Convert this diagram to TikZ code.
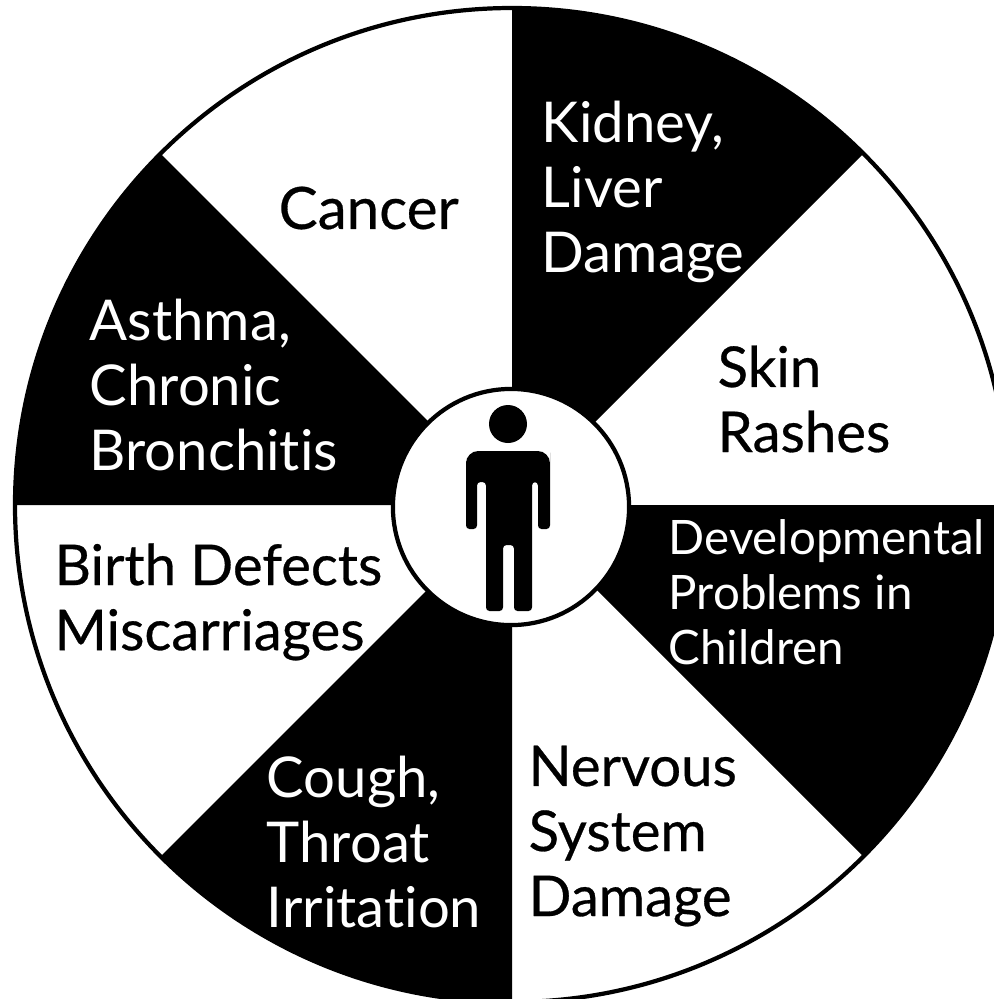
\documentclass[tikz,border=0pt]{standalone}
\usepackage{fontspec}
\setmainfont[Ligatures=NoCommon]{Lato}
\newfontfamily\heavyfont[Ligatures=NoCommon,FakeBold=0.5]{Lato}
\usetikzlibrary{positioning}
\definecolor{ink}{RGB}{0,0,0}
\tikzset{
  wedge/.style={fill=ink},
  lbl/.style={font=\heavyfont\fontsize{16}{18.5}\selectfont,align=left,inner sep=0pt,anchor=west},
  lbldark/.style={lbl,text=white,font=\fontsize{16}{18.5}\selectfont},
  lblsmall/.style={lbldark,font=\fontsize{13.5}{15.6}\selectfont},
  hub/.style={circle,draw=ink,line width=1.2pt,fill=white,minimum size=2.36cm,inner sep=0pt},
}
\begin{document}
\begin{tikzpicture}[x=0.01cm,y=-0.01cm]
  \useasboundingbox (0,0) rectangle (994,999);
  \fill[white] (0,0) rectangle (994,999);
  \coordinate (mid) at (512,505);
  % dark sectors, every other one
  \foreach \a in {-90,0,90,180}{
    \fill[wedge] (mid) -- ++(\a:497) arc[start angle=\a,delta angle=45,radius=497] -- cycle;
  }
  \draw[line width=1.2pt] (mid) circle[radius=497];
  \node[hub] (hub) at (511,507) {};
  % person
  \fill[ink] (508,424) circle[radius=19];
  \fill[ink,rounded corners=1pt] (466,529) -- (466,465) [rounded corners=3.5pt] -- (466,451) -- (550,451) -- (550,465) [rounded corners=1pt] -- (550,529) -- (538,529) -- (538,482) -- (532,482) -- (532,611) -- (514,611) -- (514,545) -- (503,545) -- (503,611) -- (486,611) -- (486,482) -- (477,482) -- (477,529) -- cycle;
  % labels
  \node[lbl,font=\heavyfont\fontsize{16.6}{18.5}\selectfont] (cancer) at (278,208) {Cancer};
  \node[lbldark] (kidney) at (541,192) {Kidney,\\Liver\\Damage};
  \node[lbl] (skin) at (717,399) {Skin\\Rashes};
  \node[lblsmall] (devel) at (668,592) {Developmental\\Problems in\\Children};
  \node[lbl] (nerv) at (528,836) {Nervous\\System\\Damage};
  \node[lbldark] (cough) at (266,842) {Cough,\\Throat\\Irritation};
  \node[lbl] (birth) at (54,602) {Birth Defects\\Miscarriages};
  \node[lbldark] (asthma) at (89,385) {Asthma,\\Chronic\\Bronchitis};
\end{tikzpicture}
\end{document}
